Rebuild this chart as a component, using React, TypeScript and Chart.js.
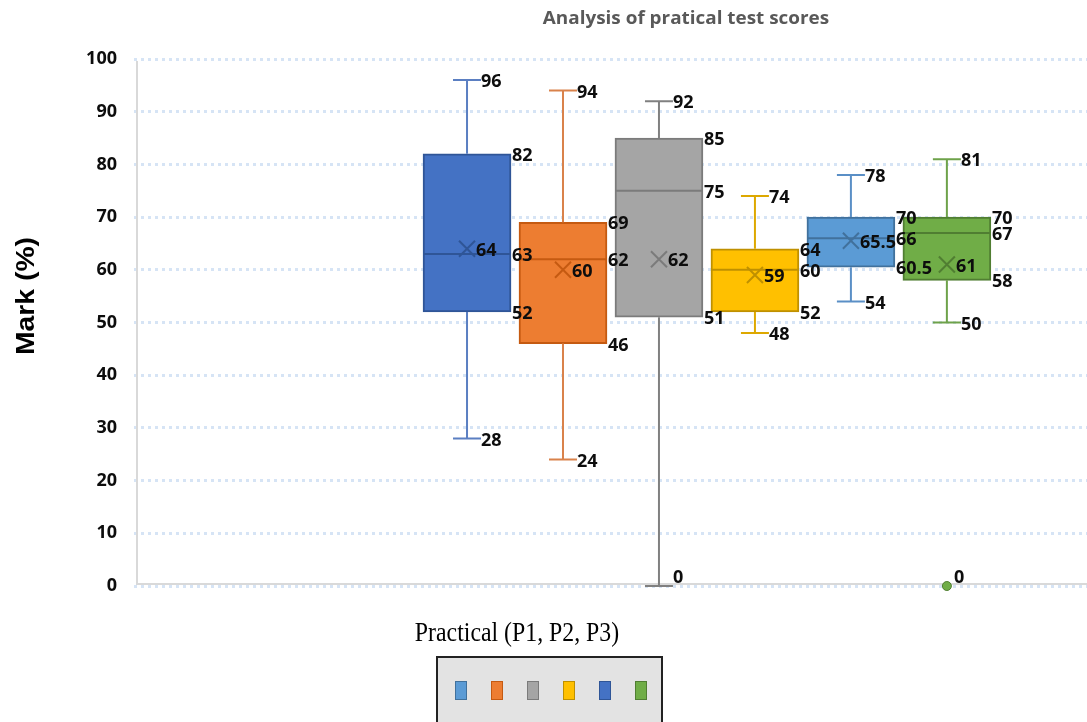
import React, { useEffect, useRef } from 'react';
import { Chart, registerables } from 'chart.js';

Chart.register(...registerables);

// ---------- data ----------
const SERIES = ['Series 1', 'Series 2', 'Series 3', 'Series 4', 'Series 5', 'Series 6'];
const MIN = [28, 24, 0, 48, 54, 50];
const Q1 = [52, 46, 51, 52, 60.5, 58];
const MEDIAN = [63, 62, 75, 60, 66, 67];
const Q3 = [82, 69, 85, 64, 70, 70];
const MAX = [96, 94, 92, 74, 78, 81];
const MEAN = [64, 60, 62, 59, 65.5, 61];
const OUTLIERS: number[][] = [[], [], [], [], [], [0]];
const LEGEND_ORDER = [4, 1, 2, 3, 0, 5];

const TITLE = 'Analysis of pratical test scores';
const X_TITLE = 'Practical (P1, P2, P3)';
const Y_TITLE = 'Mark (%)';
const Y_MIN = 0;
const Y_MAX = 100;
const Y_STEP = 10;

// ---------- styles ----------
const FILL = ['#4472C4', '#ED7D31', '#A5A5A5', '#FFC000', '#5B9BD5', '#70AD47'];
const EDGE = ['#2F5597', '#C55A11', '#7B7B7B', '#BF9000', '#41719C', '#507E32'];
const WHISKER = ['#5B7FC2', '#D9824B', '#808080', '#DDA800', '#5A8FC6', '#6EA24A'];
const LABEL_FONT = 'bold 18px "Open Sans"';

function fmt(v: number) {
  return String(v);
}

const boxPlugin = {
  id: 'boxDecor',
  beforeDatasetsDraw(chart: any) {
    const { ctx, chartArea } = chart;
    ctx.save();
    ctx.strokeStyle = '#d9d9d9';
    ctx.lineWidth = 2;
    ctx.beginPath();
    ctx.moveTo(chartArea.left + 3, chartArea.top + 2);
    ctx.lineTo(chartArea.left + 3, chartArea.bottom - 2);
    ctx.lineTo(chartArea.right, chartArea.bottom - 2);
    ctx.stroke();
    ctx.restore();
  },
  afterDatasetsDraw(chart: any) {
    const { ctx, chartArea } = chart;
    const xs = chart.scales.x;
    const ys = chart.scales.y;
    const cap = 14;
    ctx.save();
    SERIES.forEach((_, i) => {
      const bar = chart.getDatasetMeta(i).data[0];
      const cx = xs.getPixelForValue(i + 1);
      const half = bar ? bar.width / 2 : 44;
      const yMax = ys.getPixelForValue(MAX[i]);
      const yMin = ys.getPixelForValue(MIN[i]);
      const yQ1 = ys.getPixelForValue(Q1[i]);
      const yQ3 = ys.getPixelForValue(Q3[i]);
      const yMed = ys.getPixelForValue(MEDIAN[i]);
      const yMean = ys.getPixelForValue(MEAN[i]);
      ctx.strokeStyle = WHISKER[i];
      ctx.lineWidth = 2;
      ctx.beginPath();
      ctx.moveTo(cx, yQ3);
      ctx.lineTo(cx, yMax);
      ctx.moveTo(cx - cap, yMax);
      ctx.lineTo(cx + cap, yMax);
      ctx.moveTo(cx, yQ1);
      ctx.lineTo(cx, yMin);
      ctx.moveTo(cx - cap, yMin);
      ctx.lineTo(cx + cap, yMin);
      ctx.stroke();
      // median
      ctx.strokeStyle = EDGE[i];
      ctx.lineWidth = 2;
      ctx.beginPath();
      ctx.moveTo(cx - half + 1, yMed);
      ctx.lineTo(cx + half - 1, yMed);
      ctx.stroke();
      // mean X
      const m = 8;
      ctx.beginPath();
      ctx.moveTo(cx - m, yMean - m);
      ctx.lineTo(cx + m, yMean + m);
      ctx.moveTo(cx + m, yMean - m);
      ctx.lineTo(cx - m, yMean + m);
      ctx.stroke();
      // outliers
      OUTLIERS[i].forEach((v) => {
        const oy = ys.getPixelForValue(v);
        ctx.beginPath();
        ctx.arc(cx, oy, 4.5, 0, Math.PI * 2);
        ctx.fillStyle = FILL[i];
        ctx.fill();
        ctx.strokeStyle = EDGE[i];
        ctx.lineWidth = 1;
        ctx.stroke();
      });
    });
    // labels
    ctx.font = LABEL_FONT;
    ctx.fillStyle = '#0d0d0d';
    ctx.textAlign = 'left';
    ctx.textBaseline = 'middle';
    const clampY = (py: number) => Math.min(py + 2, chartArea.bottom - 8);
    SERIES.forEach((_, i) => {
      const bar = chart.getDatasetMeta(i).data[0];
      const cx = xs.getPixelForValue(i + 1);
      const half = bar ? bar.width / 2 : 44;
      const put = (v: number, dx: number) => {
        ctx.fillText(fmt(v), cx + dx, clampY(ys.getPixelForValue(v)));
      };
      put(MAX[i], cap);
      put(MIN[i], cap);
      put(Q3[i], half + 1);
      put(MEDIAN[i], half + 1);
      put(Q1[i], half + 1);
      put(MEAN[i], 9);
      OUTLIERS[i].forEach((v) => put(v, 7));
    });
    ctx.restore();
  },
  afterDraw(chart: any) {
    const { ctx } = chart;
    ctx.save();
    // chart title
    ctx.save();
    ctx.translate(686, 19);
    ctx.scale(1.05, 1);
    ctx.font = 'bold 18px "Open Sans"';
    ctx.fillStyle = '#595959';
    ctx.textAlign = 'center';
    ctx.textBaseline = 'middle';
    ctx.fillText(TITLE, 0, 0);
    ctx.restore();
    // x title
    ctx.save();
    ctx.translate(517, 641);
    ctx.scale(0.85, 1);
    ctx.font = '28px "Liberation Serif"';
    ctx.fillStyle = '#000000';
    ctx.textAlign = 'center';
    ctx.textBaseline = 'alphabetic';
    ctx.fillText(X_TITLE, 0, 0);
    ctx.restore();
    // y title
    ctx.save();
    ctx.translate(27, 296);
    ctx.rotate(-Math.PI / 2);
    ctx.scale(1.09, 1);
    ctx.font = 'bold 26px "Liberation Sans"';
    ctx.fillStyle = '#000000';
    ctx.textAlign = 'center';
    ctx.textBaseline = 'middle';
    ctx.fillText(Y_TITLE, 0, 0);
    ctx.restore();
    ctx.restore();
  },
};

export default function App() {
  const ref = useRef<HTMLCanvasElement | null>(null);

  useEffect(() => {
    if (!ref.current) return;
    const chart = new Chart(ref.current, {
      type: 'bar',
      data: {
        datasets: SERIES.map((name, i) => ({
          label: name,
          data: [{ x: i + 1, y: [Q1[i], Q3[i]] }],
          backgroundColor: FILL[i],
          borderColor: EDGE[i],
          borderWidth: 2,
          borderSkipped: false,
          barThickness: 88,
          grouped: false,
        })) as any,
      },
      options: {
        animation: false,
        responsive: false,
        devicePixelRatio: 1,
        layout: { padding: { top: 59, bottom: 136, left: 0, right: 0 } },
        plugins: {
          legend: { display: false },
          tooltip: { enabled: false },
          title: { display: false },
        },
        scales: {
          x: {
            type: 'linear',
            display: false,
            min: -2.47,
            max: 7.46,
            offset: false,
          },
          y: {
            type: 'linear',
            min: Y_MIN,
            max: Y_MAX,
            afterFit: (s: any) => {
              s.width = 134;
            },
            ticks: {
              stepSize: Y_STEP,
              padding: 17,
              color: '#0d0d0d',
              font: { family: 'Open Sans', weight: 'bold', size: 18 },
            },
            grid: { color: '#d6e4f5', lineWidth: 3, drawTicks: false },
            border: { display: false, dash: [3, 4] },
          },
        },
      } as any,
      plugins: [boxPlugin],
    });
    return () => chart.destroy();
  }, []);

  return (
    <div style={{ position: 'fixed', left: 0, top: 0, width: 1087, height: 722, overflow: 'hidden', background: '#fff' }}>
      <canvas ref={ref} width={1087} height={722} style={{ position: 'absolute', left: 0, top: 0 }} />
      <div
        style={{
          position: 'absolute',
          left: 436,
          top: 656,
          width: 227,
          height: 80,
          boxSizing: 'border-box',
          background: '#e3e3e3',
          border: '2px solid #222',
          display: 'flex',
          alignItems: 'flex-start',
          paddingLeft: 17,
          paddingTop: 23,
          gap: 24,
        }}
      >
        {LEGEND_ORDER.map((idx) => (
          <span
            key={idx}
            title={SERIES[idx]}
            style={{
              display: 'inline-block',
              width: 12,
              height: 19,
              boxSizing: 'border-box',
              background: FILL[idx],
              border: `1px solid ${EDGE[idx]}`,
              flex: '0 0 auto',
            }}
          />
        ))}
      </div>
    </div>
  );
}
